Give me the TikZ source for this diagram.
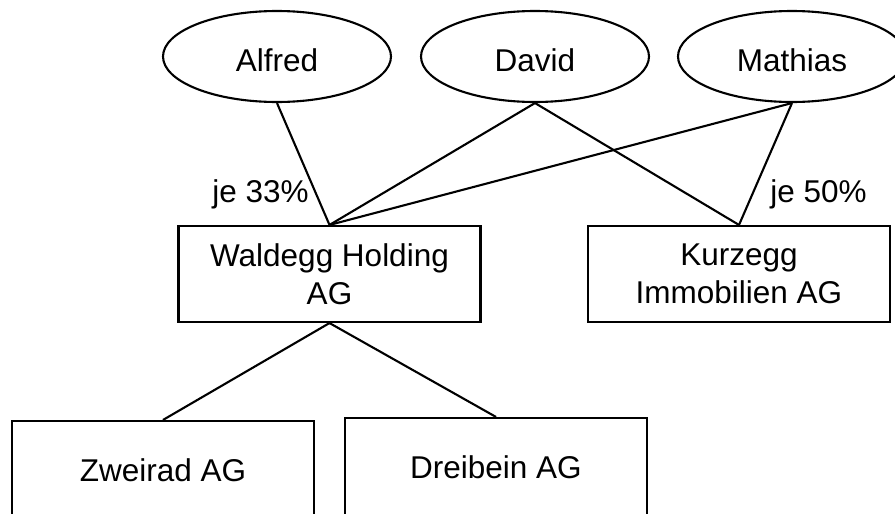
\documentclass[tikz,border=0pt]{standalone}
\usepackage{fontspec}
\setmainfont{Liberation Sans}
\usetikzlibrary{shapes.geometric}
\begin{document}
\begin{tikzpicture}[x=1pt,y=-1pt,
  every node/.style={font=\fontsize{31.5}{37.7}\selectfont, inner sep=0pt},
  person/.style={draw, line width=2.1pt, ellipse, minimum width=228pt, minimum height=91pt, text height=31pt, text depth=0.6pt},
  company/.style={draw, line width=2.1pt, rectangle, minimum width=302pt, align=center},
  conn/.style={line width=2.1pt},
  share/.style={anchor=base}]
\clip (0,0) rectangle (895,514);
\fill[white] (0,0) rectangle (895,514);
\node[person] (alfred) at (277,56.5) {Alfred};
\node[person] (david) at (535,56.5) {David};
\node[person] (mathias) at (792,56.5) {Mathias};
\node[company, minimum height=96pt] (wal) at (329.5,274) {Waldegg Holding\\AG};
\node[company, minimum height=96pt] (kur) at (739,274) {Kurzegg\\Immobilien AG};
\node[company, minimum height=98pt] (zwe) at (163,470) {Zweirad AG};
\node[company, minimum height=98pt] (dre) at (496,467) {Dreibein AG};
\node[share] (l33) at (260.5,202.5) {je 33\%};
\node[share] (l50) at (818.5,202.5) {je 50\%};
\draw[conn] (alfred.south) -- (wal.north);
\draw[conn] (david.south) -- (wal.north);
\draw[conn] (mathias.south) -- (wal.north);
\draw[conn] (david.south) -- (kur.north);
\draw[conn] (mathias.south) -- (kur.north);
\draw[conn] (wal.south) -- (zwe.north);
\draw[conn] (wal.south) -- (dre.north);
\end{tikzpicture}
\end{document}
